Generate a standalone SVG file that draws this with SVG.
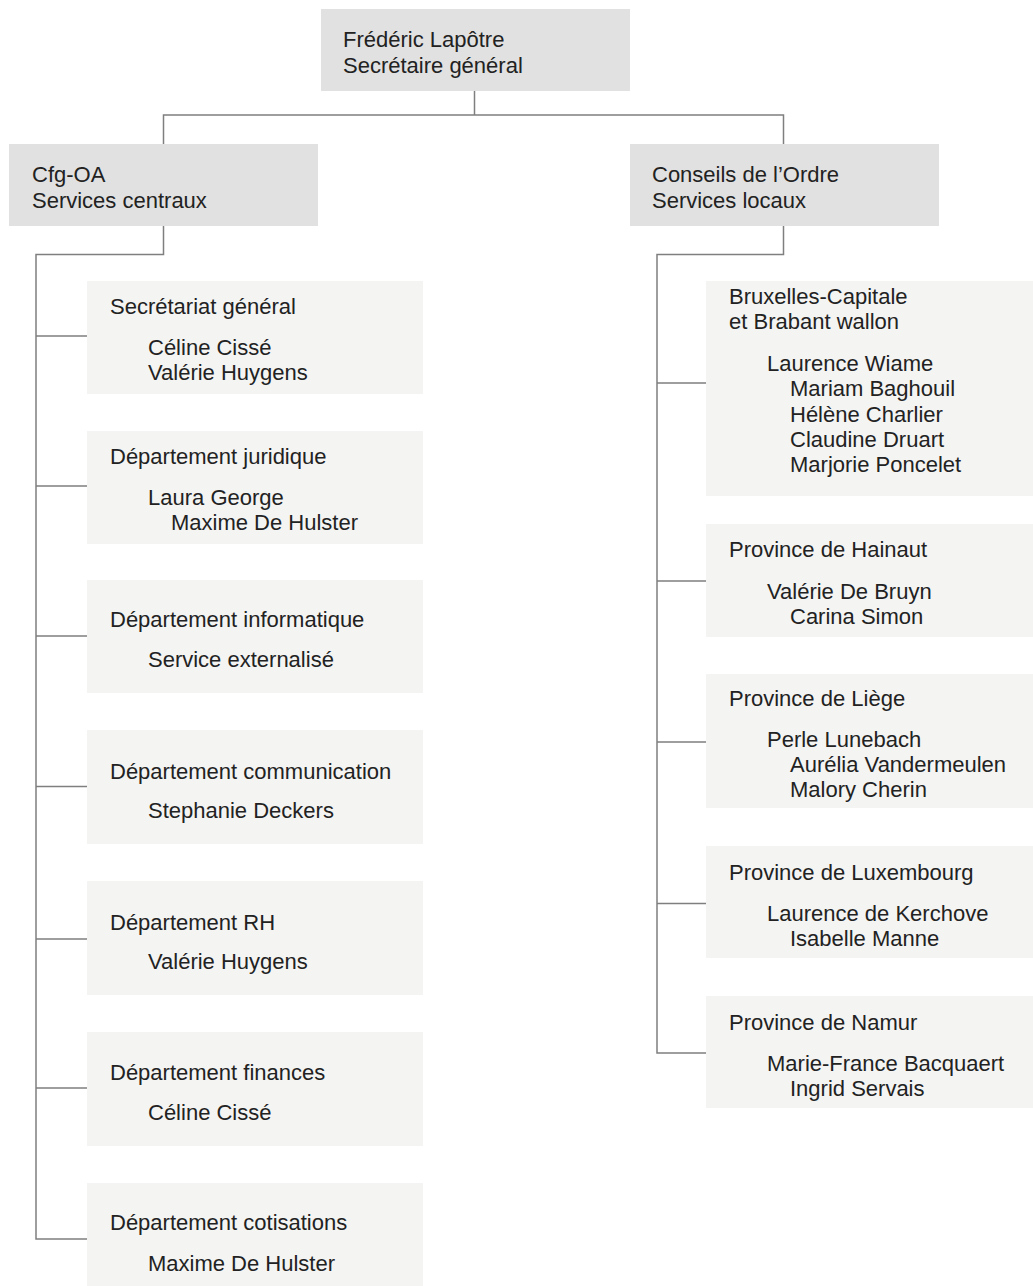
<svg xmlns="http://www.w3.org/2000/svg" width="1033" height="1286" viewBox="0 0 1033 1286">
<style>
text{font-family:"Liberation Sans",Arial,Helvetica,sans-serif;font-size:22px;fill:#222;}
.hd{fill:#e1e1e1;}
.bx{fill:#f4f4f3;}
.ln{fill:none;stroke:#7f7f7f;stroke-width:1.5;}
</style>
<rect width="1033" height="1286" fill="#fff"/>
<g id="connectors">
<path class="ln" d="M474.5 91 V115 M163.5 144 V115 H783.5 V144"/>
<path class="ln" d="M163.5 226 V254.5 H36 V1239 H87 M36 336 H87 M36 486 H87 M36 636 H87 M36 786.5 H87 M36 939 H87 M36 1088 H87"/>
<path class="ln" d="M783.5 226 V254.5 H657 V1053 H706 M657 383 H706 M657 581 H706 M657 742 H706 M657 903.5 H706"/>
</g>
<g id="root">
<rect class="hd" x="321" y="9" width="309" height="82"/>
<text x="343" y="47">Frédéric Lapôtre</text>
<text x="343" y="73">Secrétaire général</text>
</g>
<g id="central">
<rect class="hd" x="9" y="144" width="309" height="82"/>
<text x="32" y="182">Cfg-OA</text>
<text x="32" y="208">Services centraux</text>
</g>
<g id="local">
<rect class="hd" x="630" y="144" width="309" height="82"/>
<text x="652" y="182">Conseils de l’Ordre</text>
<text x="652" y="208">Services locaux</text>
</g>
<g id="secretariat">
<rect class="bx" x="87" y="281" width="336" height="113"/>
<text x="110" y="314">Secrétariat général</text>
<text x="148" y="355">Céline Cissé</text>
<text x="148" y="380">Valérie Huygens</text>
</g>
<g id="juridique">
<rect class="bx" x="87" y="431" width="336" height="113"/>
<text x="110" y="464">Département juridique</text>
<text x="148" y="505">Laura George</text>
<text x="171" y="530">Maxime De Hulster</text>
</g>
<g id="informatique">
<rect class="bx" x="87" y="580" width="336" height="113"/>
<text x="110" y="627">Département informatique</text>
<text x="148" y="667">Service externalisé</text>
</g>
<g id="communication">
<rect class="bx" x="87" y="730" width="336" height="114"/>
<text x="110" y="779">Département communication</text>
<text x="148" y="818">Stephanie Deckers</text>
</g>
<g id="rh">
<rect class="bx" x="87" y="881" width="336" height="114"/>
<text x="110" y="930">Département RH</text>
<text x="148" y="969">Valérie Huygens</text>
</g>
<g id="finances">
<rect class="bx" x="87" y="1032" width="336" height="114"/>
<text x="110" y="1080">Département finances</text>
<text x="148" y="1120">Céline Cissé</text>
</g>
<g id="cotisations">
<rect class="bx" x="87" y="1183" width="336" height="114"/>
<text x="110" y="1230">Département cotisations</text>
<text x="148" y="1271">Maxime De Hulster</text>
</g>
<g id="bruxelles">
<rect class="bx" x="706" y="281" width="327" height="215"/>
<text x="729" y="304">Bruxelles-Capitale</text>
<text x="729" y="329">et Brabant wallon</text>
<text x="767" y="371">Laurence Wiame</text>
<text x="790" y="396">Mariam Baghouil</text>
<text x="790" y="422">Hélène Charlier</text>
<text x="790" y="447">Claudine Druart</text>
<text x="790" y="472">Marjorie Poncelet</text>
</g>
<g id="hainaut">
<rect class="bx" x="706" y="524" width="327" height="113"/>
<text x="729" y="557">Province de Hainaut</text>
<text x="767" y="599">Valérie De Bruyn</text>
<text x="790" y="624">Carina Simon</text>
</g>
<g id="liege">
<rect class="bx" x="706" y="674" width="327" height="134"/>
<text x="729" y="706">Province de Liège</text>
<text x="767" y="747">Perle Lunebach</text>
<text x="790" y="772">Aurélia Vandermeulen</text>
<text x="790" y="797">Malory Cherin</text>
</g>
<g id="luxembourg">
<rect class="bx" x="706" y="846" width="327" height="112"/>
<text x="729" y="880">Province de Luxembourg</text>
<text x="767" y="921">Laurence de Kerchove</text>
<text x="790" y="946">Isabelle Manne</text>
</g>
<g id="namur">
<rect class="bx" x="706" y="996" width="327" height="112"/>
<text x="729" y="1030">Province de Namur</text>
<text x="767" y="1071">Marie-France Bacquaert</text>
<text x="790" y="1096">Ingrid Servais</text>
</g>
</svg>
